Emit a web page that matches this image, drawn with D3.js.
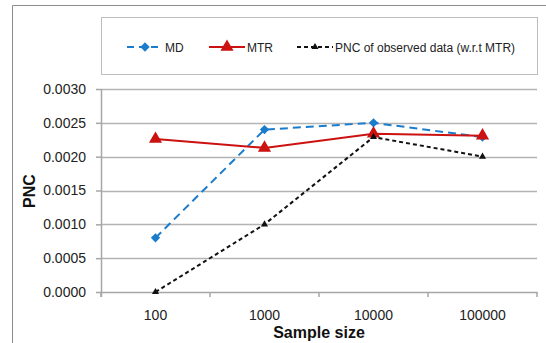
<!DOCTYPE html>
<html>
<head>
<meta charset="utf-8">
<script src="https://cdn.jsdelivr.net/npm/d3@7"></script>
<style>
  body { margin: 0; background: #fff; }
  svg { display: block; font-family: "Liberation Sans", Arial, sans-serif; }
</style>
</head>
<body>
<svg width="546" height="343"></svg>
<script>
// data
var categories = ["100", "1000", "10000", "100000"];
var mdValues = [0.00080, 0.00240, 0.00250, 0.00229];
var mtrValues = [0.00226, 0.00213, 0.00234, 0.00231];
var pncValues = [0.0000, 0.0010, 0.00229, 0.0020];
var yTicks = [0, 0.0005, 0.0010, 0.0015, 0.0020, 0.0025, 0.0030];

var seriesList = [
  { name: "MD", values: mdValues, color: "#1b7ccc", dash: "8,5", width: 2, marker: "diamond", msize: 55 },
  { name: "MTR", values: mtrValues, color: "#cc1111", dash: null, width: 2, marker: "triangle", msize: 75 },
  { name: "PNC of observed data (w.r.t MTR)", values: pncValues, color: "#111", dash: "4,3", width: 2, marker: "triangle", msize: 22 }
];

var margin = { top: 89, right: 9, bottom: 50, left: 101 };
var svg = d3.select("svg");
var width = 546 - margin.left - margin.right;
var height = 343 - margin.top - margin.bottom - 1;

// outer chart frame (cropped on the right and bottom)
svg.append("path")
  .attr("d", "M12.5,343 L12.5,5.5 L546,5.5")
  .attr("fill", "none").attr("stroke", "#8c8c8c").attr("stroke-width", 1);

var x = d3.scaleBand().domain(categories).range([0, width]);
var y = d3.scaleLinear().domain([0, 0.003]).range([height, 0]);

var g = svg.append("g").attr("transform", "translate(" + margin.left + "," + margin.top + ")");

// gridlines
g.selectAll(".grid").data(yTicks.slice(1)).enter().append("line")
  .attr("x1", 0).attr("x2", width)
  .attr("y1", function (d) { return Math.round(y(d)) + 0.5; })
  .attr("y2", function (d) { return Math.round(y(d)) + 0.5; })
  .attr("stroke", "#b4b4b4").attr("stroke-width", 1.5);

// y axis
var yAxis = g.append("g")
  .call(d3.axisLeft(y).tickValues(yTicks).tickFormat(d3.format(".4f")).tickSize(5).tickPadding(10));
yAxis.select(".domain").attr("stroke", "#a6a6a6").attr("stroke-width", 1.5).attr("d", "M0.5,0V" + (height + 5));
yAxis.selectAll(".tick line").attr("stroke", "#a6a6a6").attr("stroke-width", 1.5);
yAxis.selectAll(".tick text").attr("font-size", 14).attr("fill", "#222")
  .attr("font-family", "Liberation Sans, Arial, sans-serif");

// x axis
var xAxis = g.append("g").attr("transform", "translate(0," + height + ")")
  .call(d3.axisBottom(x).tickSize(0).tickPadding(18));
xAxis.select(".domain").attr("stroke", "#a6a6a6").attr("stroke-width", 1.5);
xAxis.selectAll(".tick text").attr("font-size", 14).attr("fill", "#222")
  .attr("font-family", "Liberation Sans, Arial, sans-serif");
// band separators as tick marks
g.selectAll(".xsep").data(categories.map(function (c) { return x(c); }).concat([width])).enter().append("line")
  .attr("x1", function (d) { return d; }).attr("x2", function (d) { return d; })
  .attr("y1", height).attr("y2", height + 5)
  .attr("stroke", "#a6a6a6").attr("stroke-width", 1.5);

// axis titles
svg.append("text").attr("x", margin.left + width / 2).attr("y", 338)
  .attr("text-anchor", "middle").attr("font-size", 16).attr("font-weight", "bold").attr("fill", "#111")
  .text("Sample size");
svg.append("text").attr("transform", "translate(35,191) rotate(-90)")
  .attr("text-anchor", "middle").attr("font-size", 16).attr("font-weight", "bold").attr("fill", "#111")
  .text("PNC");

var line = d3.line()
  .x(function (d, i) { return x(categories[i]) + x.bandwidth() / 2; })
  .y(function (d) { return y(d); });

function symbolFor(s) {
  return d3.symbol().type(s.marker === "diamond" ? d3.symbolDiamond2 : d3.symbolTriangle).size(s.msize);
}

seriesList.forEach(function (s) {
  g.append("path").datum(s.values)
    .attr("d", line).attr("fill", "none")
    .attr("stroke", s.color).attr("stroke-width", s.width)
    .attr("stroke-dasharray", s.dash);
  g.selectAll(null).data(s.values).enter().append("path")
    .attr("transform", function (d, i) {
      return "translate(" + (x(categories[i]) + x.bandwidth() / 2) + "," + y(d) + ")";
    })
    .attr("d", symbolFor(s)())
    .attr("fill", s.color);
});

// legend
var legend = svg.append("g");
legend.append("rect").attr("x", 101.5).attr("y", 17.5).attr("width", 436).attr("height", 57)
  .attr("fill", "#fff").attr("stroke", "#bdbdbd").attr("stroke-width", 1);
var legendX = [127, 209, 297];
seriesList.forEach(function (s, i) {
  var lg = legend.append("g").attr("transform", "translate(" + legendX[i] + ",47)");
  lg.append("line").attr("x1", 0).attr("x2", 36).attr("y1", 0).attr("y2", 0)
    .attr("stroke", s.color).attr("stroke-width", s.width)
    .attr("stroke-dasharray", s.marker === "diamond" ? "7,5" : s.dash);
  lg.append("path").attr("transform", "translate(18,0)").attr("d", symbolFor(s)()).attr("fill", s.color);
  lg.append("text").attr("x", 38).attr("y", 4.5).attr("font-size", 12).attr("fill", "#222")
    .text(s.name);
});
</script>
</body>
</html>
